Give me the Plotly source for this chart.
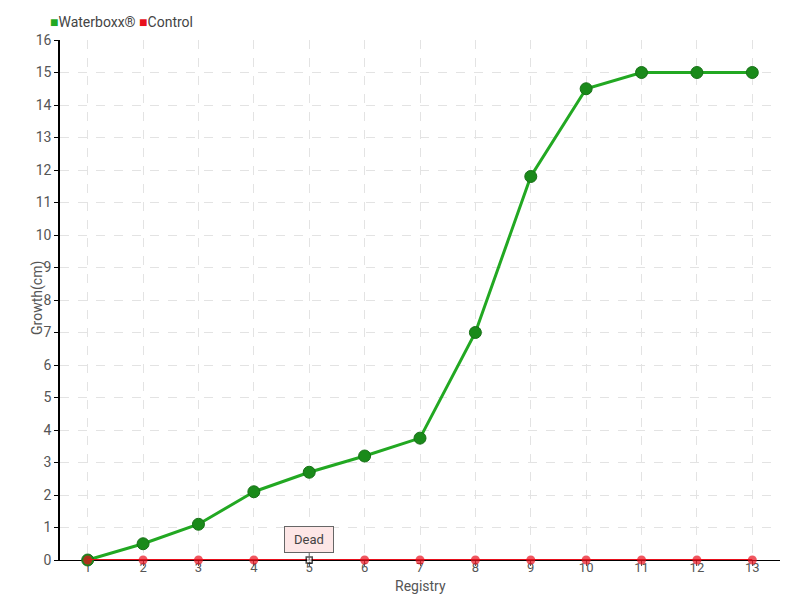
import plotly.graph_objects as go

registry = list(range(1, 14))
waterboxx = [0, 0.5, 1.1, 2.1, 2.7, 3.2, 3.75, 7.0, 11.8, 14.5, 15, 15, 15]
control = [0, 0, 0, 0, 0, 0, 0, 0, 0, 0, 0, 0, 0]
dead_index = 4  # registry 5
y_ticks = list(range(0, 17))

FONT = "Roboto, sans-serif"
GREEN = "#22a822"
GREEN_DARK = "#1a8a1a"
RED = "#e8101c"

ctrl_symbols = ["circle"] * len(control)
ctrl_colors = [RED] * len(control)
ctrl_sizes = [9] * len(control)
ctrl_line_colors = [RED] * len(control)
ctrl_line_widths = [0] * len(control)
ctrl_symbols[dead_index] = "square"
ctrl_colors[dead_index] = "white"
ctrl_sizes[dead_index] = 6
ctrl_line_colors[dead_index] = "black"
ctrl_line_widths[dead_index] = 1.5

PH = 520.0  # plot height in px
PW = 720.0  # plot width in px

fig = go.Figure()
fig.add_trace(go.Scatter(
    x=registry, y=waterboxx, mode="lines+markers", showlegend=False, cliponaxis=False,
    line=dict(color=GREEN, width=3),
    marker=dict(size=12, color=GREEN_DARK, line=dict(color="#177017", width=1)),
))
fig.add_trace(go.Scatter(
    x=registry, y=control, mode="lines+markers", showlegend=False, cliponaxis=False,
    line=dict(color=RED, width=2),
    marker=dict(size=ctrl_sizes, color=ctrl_colors, symbol=ctrl_symbols,
                line=dict(color=ctrl_line_colors, width=ctrl_line_widths)),
))

# legend drawn as text
fig.add_annotation(
    xref="paper", yref="paper", x=-12 / PW, y=1.0 + 18 / PH, xanchor="left", yanchor="middle",
    showarrow=False,
    text=(f"<span style='color:{GREEN}'>■</span>Waterboxx® "
          f"<span style='color:{RED}'>■</span>Control"),
    font=dict(family=FONT, size=14, color="#444"),
)

# axis titles
fig.add_annotation(
    xref="paper", yref="paper", x=0.5, y=-26 / PH, xanchor="center", yanchor="middle",
    showarrow=False, text="Registry", font=dict(family=FONT, size=14, color="#555"),
)
fig.add_annotation(
    xref="paper", yref="paper", x=-22 / PW, y=0.504, xanchor="center", yanchor="middle",
    showarrow=False, text="Growth(cm)", textangle=-90,
    font=dict(family=FONT, size=14, color="#555"),
)

fig.add_annotation(
    x=registry[dead_index], y=control[dead_index], text="Dead",
    showarrow=True, arrowhead=0, arrowwidth=1, arrowcolor="#666",
    ax=0, ay=-7, yanchor="bottom",
    bgcolor="#fde6e6", bordercolor="#666", borderwidth=1, borderpad=4,
    width=40, height=17,
    font=dict(family=FONT, size=13, color="#444"),
)

fig.update_layout(
    width=800, height=600,
    margin=dict(l=52, r=28, t=32, b=48, autoexpand=False),
    paper_bgcolor="white", plot_bgcolor="white",
    font=dict(family=FONT, size=14, color="#555"),
    showlegend=False,
    xaxis=dict(
        range=[0.5, 13.5], tickmode="array", tickvals=registry,
        ticktext=[str(r) for r in registry],
        showline=True, linecolor="black", linewidth=1, layer="below traces",
        ticks="outside", ticklen=5, tickcolor="#555", ticklabelstandoff=-10,
        tickfont=dict(size=13),
        showgrid=True, gridcolor="#e3e3e3", griddash="dash", zeroline=False,
        automargin=False,
    ),
    yaxis=dict(
        range=[0, 16], tickmode="array", tickvals=y_ticks,
        showline=True, linecolor="black", linewidth=1.5, layer="below traces",
        ticks="outside", ticklen=4, tickcolor="black",
        showgrid=True, gridcolor="#e3e3e3", griddash="dash", zeroline=False,
        automargin=False,
    ),
)

fig.write_html("out.html")
